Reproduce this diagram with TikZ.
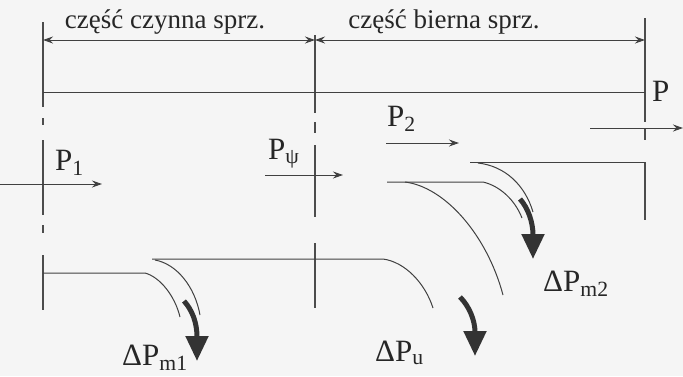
\documentclass[tikz,border=0pt]{standalone}
\usepackage{fontspec}
\setmainfont{Liberation Serif}
\usetikzlibrary{arrows.meta}

\begin{document}
\begin{tikzpicture}[x=1pt, y=-1pt,
    line/.style={draw=black!75, line width=1pt},
    axis/.style={draw=black!70, line width=1.4pt},
    dim/.style={line, {Stealth[length=10pt,width=7pt]}-{Stealth[length=10pt,width=7pt]}},
    flow/.style={line, -{Stealth[length=10pt,width=7pt]}},
    loss/.style={draw=black!80, line width=5pt, -{Triangle[length=25pt,width=22pt]}},
    lbl/.style={font=\fontsize{31}{34}\selectfont, text=black!85, inner sep=0pt, anchor=base west},
    head/.style={font=\fontsize{27}{30}\selectfont, text=black!85, inner sep=0pt, anchor=base}
]
\useasboundingbox[fill=black!4] (0,0) rectangle (683,376);

% osie
\coordinate (axAt) at (43,22);
\coordinate (axAb) at (43,310);
\coordinate (axBt) at (315,35);
\coordinate (axBb) at (315,308);
\coordinate (axCt) at (645,18);
\coordinate (axCb) at (645,220);
\draw[axis, dash pattern=on 85pt off 11pt on 7pt off 15pt on 75pt off 10pt on 8pt off 22pt on 55pt] (axAt) -- (axAb);
\draw[axis, dash pattern=on 78pt off 9pt on 11pt off 12pt on 72pt off 26pt on 65pt] (axBt) -- (axBb);
\draw[axis, dash pattern=on 104pt off 6pt on 12pt off 22pt on 58pt] (axCt) -- (axCb);

% wymiary
\coordinate (czL) at (43,40);
\coordinate (czM) at (315,40);
\coordinate (czR) at (645,40);
\draw[dim] (czL) -- (czM);
\draw[dim] (czM) -- (czR);
\node[head] (czynna) at (165,28) {część czynna sprz.};
\node[head] (bierna) at (444,28) {część bierna sprz.};

\coordinate (lnL) at (43,92);
\coordinate (lnR) at (645,92);
\draw[line] (lnL) -- (lnR);
\node[lbl] (tP) at (652,101) {P};

% moce
\coordinate (p1s) at (0,184);
\coordinate (p1e) at (102,184);
\coordinate (pps) at (265,175);
\coordinate (ppe) at (343,175);
\coordinate (p2s) at (386,143);
\coordinate (p2e) at (459,143);
\coordinate (ps) at (590,128);
\coordinate (pe) at (683,128);
\draw[flow] (p1s) -- (p1e);
\draw[flow] (pps) -- (ppe);
\draw[flow] (p2s) -- (p2e);
\draw[flow] (ps) -- (pe);
\node[lbl] (tP1) at (55,170) {P\textsubscript{1}};
\node[lbl] (tPpsi) at (268,159) {P\textsubscript{ψ}};
\node[lbl] (tP2) at (387,126) {P\textsubscript{2}};

% straty
\coordinate (m2a) at (470,162);
\coordinate (m2r) at (645,162);
\coordinate (m2o) at (478,163);
\coordinate (m2oe) at (533,212);
\coordinate (ua) at (387,182);
\coordinate (ub) at (483,182);
\coordinate (m2ie) at (522,218);
\coordinate (uo) at (405,182);
\coordinate (uoe) at (503,295);
\coordinate (va) at (152,259);
\coordinate (vb) at (383,259);
\coordinate (vbe) at (433,308);
\coordinate (m1o) at (155,260);
\coordinate (m1oe) at (200,315);
\coordinate (wa) at (43,273);
\coordinate (wb) at (145,273);
\coordinate (m1ie) at (180,317);

\draw[line] (m2a) -- (m2r);
\draw[line] (m2o) .. controls (505,166) and (525,185) .. (m2oe);
\draw[line] (ua) -- (ub) .. controls (500,186) and (515,200) .. (m2ie);
\draw[line] (uo) .. controls (445,187) and (487,235) .. (uoe);
\draw[line] (va) -- (vb) .. controls (405,262) and (425,283) .. (vbe);
\draw[line] (m1o) .. controls (177,264) and (195,287) .. (m1oe);
\draw[line] (wa) -- (wb) .. controls (160,277) and (175,296) .. (m1ie);

\coordinate (m1s) at (184,301);
\coordinate (m1t) at (197,361);
\coordinate (us) at (460,297);
\coordinate (ut) at (475,356);
\coordinate (m2s) at (520,199);
\coordinate (m2t) at (533,259);
\draw[loss] (m1s) .. controls (192,310) and (197,322) .. (m1t);
\draw[loss] (us) .. controls (469,306) and (475,320) .. (ut);
\draw[loss] (m2s) .. controls (528,208) and (533,222) .. (m2t);

\node[lbl] (tm1) at (122,365) {ΔP\textsubscript{m1}};
\node[lbl] (tu) at (375,361) {ΔP\textsubscript{u}};
\node[lbl] (tm2) at (543,291) {ΔP\textsubscript{m2}};
\end{tikzpicture}
\end{document}
